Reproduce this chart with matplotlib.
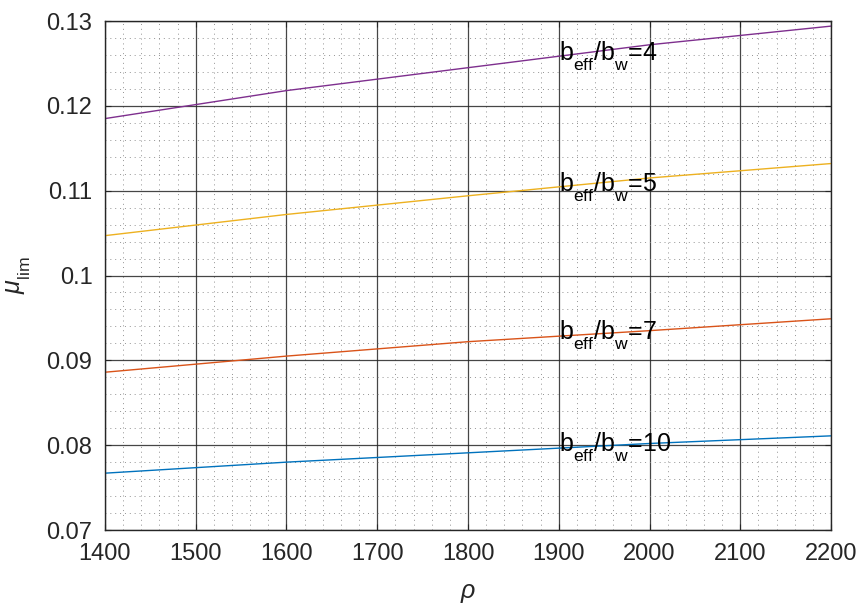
import matplotlib
matplotlib.use("Agg")
import matplotlib.pyplot as plt
from matplotlib.ticker import MultipleLocator, FuncFormatter

plt.rcParams['font.family'] = ['Liberation Sans', 'DejaVu Sans']
plt.rcParams['mathtext.fontset'] = 'custom'
plt.rcParams['mathtext.rm'] = 'Liberation Sans'
plt.rcParams['mathtext.it'] = 'Liberation Sans:italic'

# deeper subscripts, TeX-interpreter style
try:
    import matplotlib._mathtext as _mt
    _mt.FontConstantsBase.sub1 = 0.75
    _mt.FontConstantsBase.sub2 = 0.8
except Exception:
    pass

# density values
rho = [1400, 1600, 1800, 2000, 2200]

# limit moment ratio for each effective-width ratio
mu_w10 = [0.0767, 0.0780, 0.0791, 0.0802, 0.0811]
mu_w7 = [0.0886, 0.0905, 0.0922, 0.0935, 0.0949]
mu_w5 = [0.1047, 0.1072, 0.1094, 0.1115, 0.1132]
mu_w4 = [0.1185, 0.1218, 0.1245, 0.1272, 0.1294]

ratios = ['10', '7', '5', '4']
series = [mu_w10, mu_w7, mu_w5, mu_w4]
colors = ['#0072BD', '#D95319', '#EDB120', '#7E2F8E']

label_rho = 1900
label_vals = [0.0797, 0.0929, 0.1104, 0.1258]

fig = plt.figure(figsize=(8.57, 6.06), dpi=100)
ax = fig.add_axes([0.1225, 0.1254, 0.8472, 0.8399])

for vals, c in zip(series, colors):
    ax.plot(rho, vals, color=c, lw=1.0)

for r, v in zip(ratios, label_vals):
    ax.text(label_rho, v, r'b$_{\mathrm{eff}}$/b$_{\mathrm{w}}$=' + r,
            fontsize=18, va='center', ha='left', color='black')

ax.set_xlim(1400, 2200)
ax.set_ylim(0.07, 0.13)
ax.xaxis.set_major_locator(MultipleLocator(100))
ax.xaxis.set_minor_locator(MultipleLocator(20))
ax.yaxis.set_major_locator(MultipleLocator(0.01))
ax.yaxis.set_minor_locator(MultipleLocator(0.002))
ax.yaxis.set_major_formatter(FuncFormatter(lambda v, p: ('%g' % round(v, 3))))

ax.grid(which='major', color='#262626', lw=0.9, alpha=0.85)
ax.grid(which='minor', color='#808080', lw=0.7, ls=(0, (1, 4)), alpha=0.85)
ax.set_axisbelow(True)

for s in ax.spines.values():
    s.set_color('#262626')
    s.set_linewidth(1.0)

ax.tick_params(which='both', direction='in', top=True, right=True,
               colors='#262626', labelsize=17)
ax.tick_params(which='major', length=4, pad=9)
ax.tick_params(which='minor', length=0)

ax.set_xlabel(r'$\rho$', fontsize=18, color='#262626', labelpad=12)
ax.set_ylabel(r'$\mu_{\mathrm{lim}}$', fontsize=18, color='#262626', labelpad=10)

fig.savefig('out.png', dpi=100)
